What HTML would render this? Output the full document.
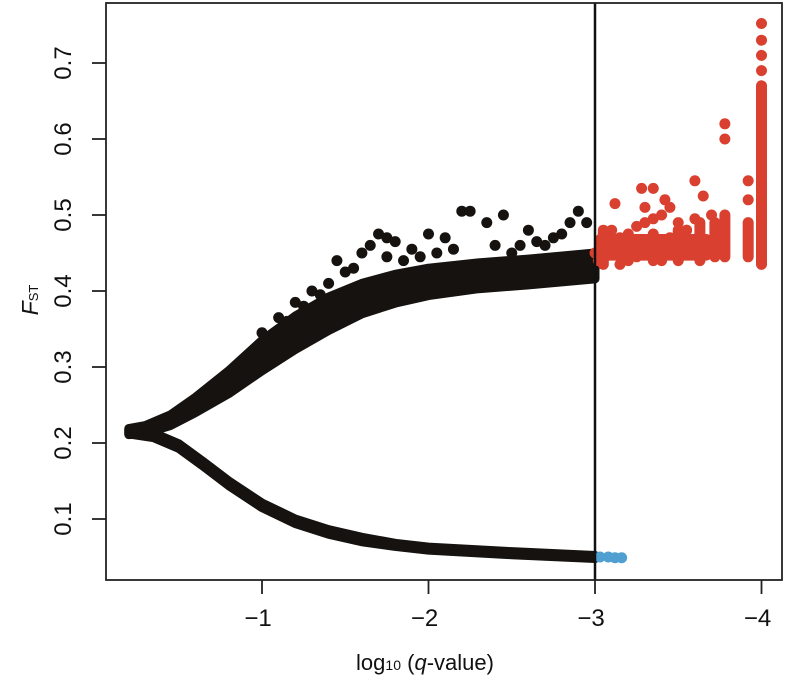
<!DOCTYPE html>
<html><head><meta charset="utf-8"><style>
html,body{margin:0;padding:0;background:#fff}
svg text{font-family:"Liberation Sans",sans-serif;fill:#111}
</style></head><body>
<svg id="chart" width="787" height="684" viewBox="0 0 787 684" xmlns="http://www.w3.org/2000/svg">
<g id="marks"></g>
<g id="axes"></g>
</svg>
<script>
const xTicks=[1,2,3,4];
const xTickLabels=["\u22121","\u22122","\u22123","\u22124"];
const yTicks=[0.1,0.2,0.3,0.4,0.5,0.6,0.7];
const yTickLabels=["0.1","0.2","0.3","0.4","0.5","0.6","0.7"];
const threshold=3;
// upper branch (centre & half-width)
const upQ=[0.2,0.3,0.45,0.6,0.8,1.0,1.2,1.4,1.6,1.8,2.0,2.3,2.6,3.0];
const upF=[0.215,0.218,0.23,0.25,0.28,0.315,0.345,0.37,0.39,0.403,0.412,0.42,0.425,0.433];
const upW=[0.004,0.005,0.007,0.01,0.015,0.02,0.022,0.022,0.02,0.019,0.018,0.017,0.017,0.017];
// lower branch
const loQ=[0.2,0.35,0.5,0.65,0.8,1.0,1.2,1.4,1.6,1.8,2.0,2.5,3.0];
const loF=[0.215,0.21,0.196,0.172,0.147,0.118,0.097,0.083,0.073,0.066,0.061,0.055,0.05];
const loW=[0.003,0.003,0.003,0.003,0.003,0.003,0.003,0.003,0.003,0.002,0.002,0.002,0.002];
// black outliers above band
const bkQ=[1.0,1.1,1.2,1.3,1.4,1.45,1.55,1.6,1.65,1.7,1.75,1.8,1.85,1.9,2.0,2.1,2.2,2.25,2.35,2.45,2.5,2.6,2.7,2.8,2.85,2.9,2.95,1.5,1.95,2.15,2.55,2.75,1.15,1.35,1.25,2.05,2.4,2.65,1.05,1.75];
const bkF=[0.345,0.365,0.385,0.4,0.41,0.44,0.43,0.45,0.46,0.475,0.47,0.465,0.44,0.455,0.475,0.47,0.505,0.505,0.49,0.5,0.45,0.48,0.46,0.475,0.49,0.505,0.49,0.425,0.445,0.455,0.46,0.47,0.36,0.395,0.38,0.45,0.46,0.465,0.335,0.445];
// red outliers
const rdQ=[3.0,3.05,3.1,3.15,3.2,3.25,3.3,3.35,3.4,3.45,3.5,3.55,3.6,3.05,3.1,3.2,3.25,3.3,3.35,3.4,3.5,3.55,3.3,3.35,3.42,3.5,3.55,3.6,3.65,3.7,3.78,3.78,3.12,3.28,3.45,3.6,3.02,3.15,3.25,3.4,3.5];
const rdF=[0.45,0.46,0.455,0.47,0.45,0.46,0.465,0.455,0.46,0.47,0.45,0.46,0.455,0.475,0.48,0.47,0.485,0.49,0.495,0.5,0.47,0.48,0.51,0.535,0.52,0.49,0.48,0.545,0.525,0.5,0.6,0.62,0.515,0.535,0.51,0.495,0.44,0.435,0.445,0.44,0.45];
// red vertical columns (q, fmin, fmax)
const colQ=[3.05,3.2,3.35,3.5,3.63,3.72,3.78,3.92,4.0];
const colMin=[0.435,0.44,0.44,0.44,0.44,0.445,0.445,0.445,0.435];
const colMax=[0.48,0.475,0.475,0.48,0.49,0.49,0.5,0.49,0.67];
const topQ=[4.0,4.0,4.0,4.0,3.92,3.92];
const topF=[0.69,0.71,0.73,0.752,0.52,0.545];
// blue points
const blQ=[3.03,3.08,3.12,3.16];
const blF=[0.05,0.05,0.049,0.049];

const L=106,R=782,T=3,B=580;
const X=v=>262+(v-1)*166.5;
const Y=v=>443-(v-0.2)*760;
const NS="http://www.w3.org/2000/svg";
const marks=document.getElementById('marks'),axes=document.getElementById('axes');
function mk(t,a,p){const e=document.createElementNS(NS,t);for(const k in a)e.setAttribute(k,a[k]);p.appendChild(e);return e;}
function band(q,f,w,name){
  let top=q.map((v,i)=>X(v)+','+Y(f[i]+w[i])),bot=q.map((v,i)=>X(v)+','+Y(f[i]-w[i])).reverse();
  const p=mk('polygon',{points:top.concat(bot).join(' '),fill:'#15120f',stroke:'#15120f','stroke-width':9,'stroke-linejoin':'round'},marks);
  
  
}
band(upQ,upF,upW,'upper-branch');
band(loQ,loF,loW,'lower-branch');
function dots(q,f,col,name){q.forEach((v,i)=>{const c=mk('circle',{cx:X(v),cy:Y(f[i]),r:5.5,fill:col},marks);
  
  });}
dots(bkQ,bkF,'#15120f','neutral-point');
colQ.forEach((v,i)=>{const l=mk('line',{x1:X(v),x2:X(v),y1:Y(colMin[i]),y2:Y(colMax[i]),stroke:'#d9402f','stroke-width':11,'stroke-linecap':'round'},marks);
  
  });
const rm=mk('rect',{x:X(3.0),y:Y(0.475),width:X(3.7)-X(3.0),height:Y(0.44)-Y(0.475),fill:'#d9402f',rx:5},marks);


dots(rdQ,rdF,'#d9402f','outlier-point');
dots(topQ,topF,'#d9402f','outlier-point');
dots(blQ,blF,'#4f9fd0','balancing-point');
const th=mk('line',{x1:X(threshold),x2:X(threshold),y1:T,y2:B,stroke:'#111','stroke-width':2.5},axes);


const fr=mk('rect',{x:L,y:T,width:R-L,height:B-T,fill:'none',stroke:'#222','stroke-width':1.8},axes);


xTicks.forEach((v,i)=>{mk('line',{x1:X(v),x2:X(v),y1:B,y2:B+14,stroke:'#222','stroke-width':1.8},axes);
  const t=mk('text',{x:X(v)-4,y:B+46,'text-anchor':'middle','font-size':24},axes);t.textContent=xTickLabels[i];
  
  });
yTicks.forEach((v,i)=>{mk('line',{x1:L-14,x2:L,y1:Y(v),y2:Y(v),stroke:'#222','stroke-width':1.8},axes);
  const t=mk('text',{x:0,y:0,'text-anchor':'middle','font-size':24,transform:`translate(71,${Y(v)}) rotate(-90)`},axes);t.textContent=yTickLabels[i];
  
  });
</script>
<svg style="position:absolute;left:0;top:0" width="787" height="684">
<text x="425" y="670" text-anchor="middle" font-size="22">log<tspan font-size="14">10</tspan> (<tspan font-style="italic">q</tspan>-value)</text>
<text transform="translate(38,300) rotate(-90)" text-anchor="middle" font-size="23"><tspan font-style="italic">F</tspan><tspan font-size="13">ST</tspan></text>
</svg>
</body></html>
